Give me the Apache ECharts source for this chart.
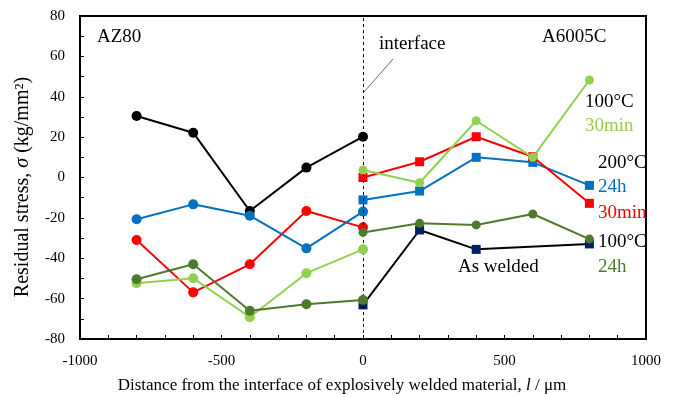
<!DOCTYPE html>
<html>
<head>
<meta charset="utf-8">
<script src="https://cdn.jsdelivr.net/npm/echarts@6/dist/echarts.min.js"></script>
<style>
  html, body { margin: 0; padding: 0; background: #fff; }
  #main { width: 674px; height: 396px; }
</style>
</head>
<body>
<div id="main"></div>
<script>
// 横轴位置 (μm)
var xLeft = [-800, -600, -400, -200, 0]
var xRight = [0, 200, 400, 600, 800]

// AZ80 侧 (圆点)
var azAsWelded = [30.5, 22.2, -16.6, 4.9, 20.2]
var az200_30min = [-31, -56.9, -43, -16.6, -24.7]
var az200_24h = [-20.7, -13.3, -18.9, -35.1, -16.9]
var az100_30min = [-52.4, -49.9, -69.2, -47.4, -35.6]
var az100_24h = [-50.4, -43, -66, -62.8, -60.7]

// A6005C 侧
var alAsWelded = [-63.1, -26, -35.6, null, -32.9]
var al200_24h = [-11.1, -6.7, 10, 7.5, -3.9]
var al200_30min = [0, 7.8, 20.2, 10.3, -12.8]
var al100_30min = [3.7, -2.6, 28.1, 10, 48.3]
var al100_24h = [-27.2, -22.7, -23.5, -18.1, -30.5]

var xTicks = [-1000, -500, 0, 500, 1000]
var yTicks = [-80, -60, -40, -20, 0, 20, 40, 60, 80]

var FONT = '"Liberation Serif", "Times New Roman", serif'

function pairs(xs, ys) {
    var out = []
    for (var i = 0; i < xs.length; i++) {
        out.push([xs[i], ys[i]])
    }
    return out
}

function line(name, xs, ys, color, symbol, size, z) {
    return {
        name: name,
        type: 'line',
        data: pairs(xs, ys),
        symbol: symbol,
        symbolSize: size,
        connectNulls: true,
        z: z,
        lineStyle: { color: color, width: 2 },
        itemStyle: { color: color },
        emphasis: { disabled: true }
    }
}

var black = '#000000'
var red = '#ff0000'
var blue = '#0070c0'
var lgreen = '#92d050'
var dgreen = '#4e7a2c'
var navy = '#002060'

var myChart = echarts.init(document.getElementById('main'))

var series = [
    line('AZ80 as welded', xLeft, azAsWelded, black, 'circle', 10, 2),
    line('AZ80 200C 30min', xLeft, az200_30min, red, 'circle', 10, 3),
    line('AZ80 200C 24h', xLeft, az200_24h, blue, 'circle', 10, 4),
    line('AZ80 100C 30min', xLeft, az100_30min, lgreen, 'circle', 10, 5),
    line('AZ80 100C 24h', xLeft, az100_24h, dgreen, 'circle', 10, 6),
    line('A6005C as welded', xRight, alAsWelded, black, 'rect', 9, 2),
    line('A6005C 200C 24h', xRight, al200_24h, blue, 'rect', 9, 3),
    line('A6005C 200C 30min', xRight, al200_30min, red, 'rect', 9, 4),
    line('A6005C 100C 30min', xRight, al100_30min, lgreen, 'circle', 9, 5),
    line('A6005C 100C 24h', xRight, al100_24h, dgreen, 'circle', 9, 6)
]
// 焊后态 A6005C 的方块用深蓝色，线是黑色
series[5].itemStyle = { color: navy }

// 界面虚线
series.push({
    type: 'line',
    data: [],
    markLine: {
        silent: true,
        symbol: 'none',
        label: { show: false },
        lineStyle: { color: '#000', width: 1, type: [3, 3] },
        data: [{ xAxis: 0 }]
    },
    z: 1
})

var option = {
    animation: false,
    grid: {
        left: 80,
        right: 28,
        top: 16,
        bottom: 57,
        show: true,
        borderColor: '#000',
        borderWidth: 2
    },
    xAxis: {
        type: 'value',
        min: xTicks[0],
        max: xTicks[xTicks.length - 1],
        interval: 500,
        axisLine: { onZero: false, lineStyle: { color: '#000', width: 2 } },
        axisTick: { inside: true, length: 4, lineStyle: { color: '#000' } },
        minorTick: { show: true, splitNumber: 5, length: 4, lineStyle: { color: '#000' } },
        splitLine: { show: false },
        axisLabel: {
            margin: 15, color: '#000', fontFamily: FONT, fontSize: 15,
            formatter: function (v) { return String(v) }
        }
    },
    yAxis: {
        type: 'value',
        min: yTicks[0],
        max: yTicks[yTicks.length - 1],
        interval: 20,
        axisLine: { onZero: false, lineStyle: { color: '#000', width: 2 } },
        axisTick: { inside: true, length: 4, lineStyle: { color: '#000' } },
        minorTick: { show: true, splitNumber: 2, length: 4, lineStyle: { color: '#000' } },
        splitLine: { show: false },
        axisLabel: { margin: 15, color: '#000', fontFamily: FONT, fontSize: 15 }
    },
    series: series,
    graphic: [
        { type: 'text', x: 97, y: 37, style: { text: 'AZ80', fill: '#000', font: '19px ' + FONT, verticalAlign: 'middle' } },
        { type: 'text', x: 542, y: 37, style: { text: 'A6005C', fill: '#000', font: '19px ' + FONT, verticalAlign: 'middle' } },
        { type: 'text', x: 379, y: 44, style: { text: 'interface', fill: '#000', font: '19px ' + FONT, verticalAlign: 'middle' } },
        { type: 'line', shape: { x1: 364, y1: 92, x2: 393, y2: 59 }, style: { stroke: '#666', lineWidth: 1 } },
        { type: 'text', x: 585, y: 102, style: { text: '100°C', fill: '#000', font: '19px ' + FONT, verticalAlign: 'middle' } },
        { type: 'text', x: 585, y: 126, style: { text: '30min', fill: lgreen, font: '19px ' + FONT, verticalAlign: 'middle' } },
        { type: 'text', x: 598, y: 163, style: { text: '200°C', fill: '#000', font: '19px ' + FONT, verticalAlign: 'middle' } },
        { type: 'text', x: 598, y: 187, style: { text: '24h', fill: blue, font: '19px ' + FONT, verticalAlign: 'middle' } },
        { type: 'text', x: 598, y: 213, style: { text: '30min', fill: red, font: '19px ' + FONT, verticalAlign: 'middle' } },
        { type: 'text', x: 598, y: 242, style: { text: '100°C', fill: '#000', font: '19px ' + FONT, verticalAlign: 'middle' } },
        { type: 'text', x: 598, y: 267, style: { text: '24h', fill: dgreen, font: '19px ' + FONT, verticalAlign: 'middle' } },
        { type: 'text', x: 458, y: 267, style: { text: 'As welded', fill: '#000', font: '19px ' + FONT, verticalAlign: 'middle' } },
        {
            type: 'text', x: 23, y: 187, rotation: Math.PI / 2,
            style: {
                text: '{n|Residual stress, }{i|σ}{n| (kg/mm²)}',
                align: 'center', verticalAlign: 'middle',
                rich: {
                    n: { fontFamily: FONT, fontSize: 20, fill: '#000' },
                    i: { fontFamily: FONT, fontSize: 20, fontStyle: 'italic', fill: '#000' }
                }
            }
        },
        {
            type: 'text', x: 342, y: 386,
            style: {
                text: '{n|Distance from the interface of explosively welded material, }{i|l}{n| / μm}',
                align: 'center', verticalAlign: 'middle',
                rich: {
                    n: { fontFamily: FONT, fontSize: 17, fill: '#000' },
                    i: { fontFamily: FONT, fontSize: 17, fontStyle: 'italic', fill: '#000' }
                }
            }
        }
    ]
}

myChart.setOption(option)
</script>
</body>
</html>
